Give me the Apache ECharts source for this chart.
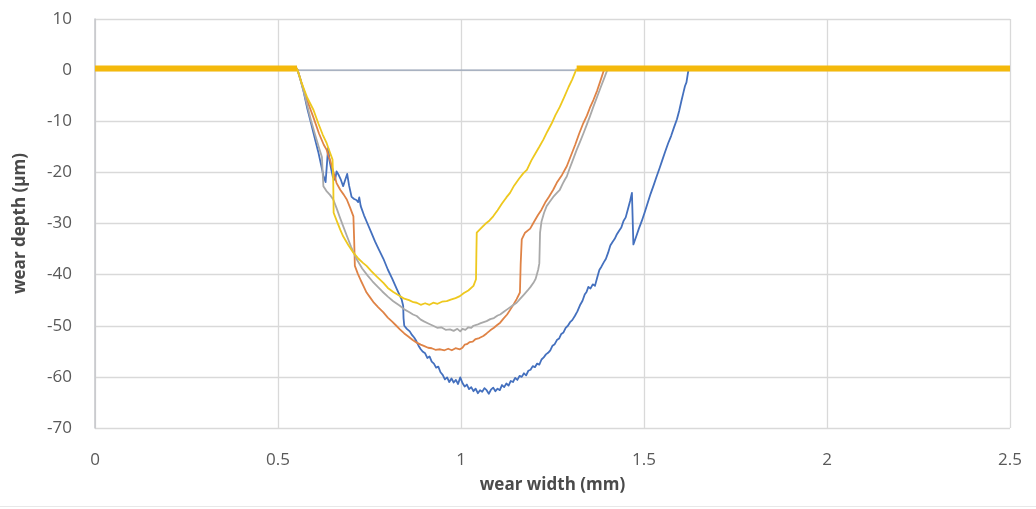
<!DOCTYPE html>
<html>
<head>
<meta charset="utf-8">
<title>wear profile</title>
<script src="https://cdn.jsdelivr.net/npm/echarts@6/dist/echarts.min.js"></script>
<style>
  html, body { margin: 0; padding: 0; background: #ffffff; }
  #chart { width: 1036px; height: 509px; }
</style>
</head>
<body>
<div id="chart"></div>
<script>
// Axis ranges and ticks
const xTicks = [0, 0.5, 1, 1.5, 2, 2.5];
const yTicks = [-70, -60, -50, -40, -30, -20, -10, 0, 10];

// Wear profiles: [width (mm), depth (µm)]
const profileBlue = [
  [0.000,0.2],[0.552,0.3],[0.560,-1.5],[0.570,-4.2],[0.580,-7.5],[0.590,-10.3],[0.600,-13.2],[0.610,-16.0],
  [0.618,-18.6],[0.624,-20.6],[0.630,-21.9],[0.633,-21.6],[0.637,-15.2],[0.641,-17.8],[0.646,-19.6],[0.650,-20.9],
  [0.656,-21.5],[0.660,-19.8],[0.665,-20.4],[0.671,-21.3],[0.678,-22.7],[0.684,-21.4],[0.689,-20.3],[0.694,-22.5],
  [0.701,-24.8],[0.708,-25.2],[0.714,-25.4],[0.719,-25.8],[0.722,-24.9],[0.726,-26.6],[0.735,-28.4],[0.745,-30.1],
  [0.755,-31.8],[0.765,-33.5],[0.775,-35.0],[0.788,-36.9],[0.800,-39.0],[0.812,-40.8],[0.825,-42.9],[0.838,-44.9],
  [0.842,-46.1],[0.843,-48.5],[0.845,-50.0],[0.852,-50.6],[0.860,-51.1],[0.866,-51.8],[0.872,-52.3],[0.878,-53.0],
  [0.884,-53.9],[0.890,-54.6],[0.896,-55.1],[0.902,-55.4],[0.908,-56.3],[0.914,-56.0],[0.920,-57.0],[0.926,-57.4],
  [0.932,-58.2],[0.938,-58.0],[0.944,-59.1],[0.950,-59.6],[0.956,-60.5],[0.962,-60.1],[0.968,-61.0],[0.974,-60.3],
  [0.980,-61.1],[0.986,-60.6],[0.992,-61.4],[0.998,-60.1],[1.004,-61.2],[1.010,-61.9],[1.016,-61.5],[1.022,-62.4],
  [1.028,-62.0],[1.034,-62.8],[1.040,-62.3],[1.046,-63.2],[1.052,-62.6],[1.058,-62.9],[1.064,-62.2],[1.070,-62.6],
  [1.076,-63.3],[1.082,-62.5],[1.088,-62.1],[1.094,-62.8],[1.100,-62.3],[1.106,-62.6],[1.112,-61.6],[1.118,-62.0],
  [1.124,-61.3],[1.130,-61.7],[1.136,-60.8],[1.142,-61.0],[1.148,-60.2],[1.154,-60.6],[1.160,-59.8],[1.166,-60.0],
  [1.172,-59.3],[1.178,-59.7],[1.184,-58.8],[1.190,-58.6],[1.196,-57.9],[1.202,-58.1],[1.208,-57.4],[1.214,-57.6],
  [1.220,-56.6],[1.226,-56.2],[1.232,-55.6],[1.238,-55.3],[1.244,-54.8],[1.250,-53.9],[1.256,-53.6],[1.262,-52.8],
  [1.268,-52.5],[1.274,-51.6],[1.280,-51.3],[1.286,-50.4],[1.292,-50.0],[1.298,-49.3],[1.304,-48.9],[1.311,-48.1],
  [1.318,-47.2],[1.325,-46.0],[1.332,-45.1],[1.338,-43.9],[1.343,-43.4],[1.348,-42.4],[1.354,-42.7],[1.360,-41.9],
  [1.366,-42.2],[1.372,-40.6],[1.378,-39.1],[1.384,-38.4],[1.390,-37.6],[1.396,-36.9],[1.402,-35.7],[1.408,-34.3],
  [1.414,-33.6],[1.420,-33.0],[1.426,-32.1],[1.432,-31.4],[1.438,-30.8],[1.444,-29.5],[1.450,-28.8],[1.456,-27.2],
  [1.462,-25.6],[1.467,-24.0],[1.471,-34.1],[1.478,-32.7],[1.486,-31.0],[1.494,-29.5],[1.502,-27.8],[1.510,-26.0],
  [1.518,-24.2],[1.526,-22.6],[1.534,-20.9],[1.542,-19.3],[1.550,-17.6],[1.558,-15.9],[1.566,-14.3],[1.574,-12.9],
  [1.582,-11.2],[1.590,-9.6],[1.596,-8.0],[1.602,-6.1],[1.607,-4.6],[1.612,-3.1],[1.616,-2.4],[1.620,-0.6],
  [1.622,0.2],[2.500,0.2]
];

const profileOrange = [
  [0.000,0.2],[0.552,0.3],[0.565,-2.6],[0.580,-6.0],[0.597,-9.3],[0.612,-12.4],[0.625,-14.6],[0.633,-15.6],
  [0.638,-16.8],[0.642,-17.5],[0.650,-19.6],[0.660,-22.1],[0.670,-23.4],[0.680,-24.4],[0.688,-25.3],[0.697,-26.9],
  [0.706,-28.6],[0.708,-33.0],[0.710,-38.3],[0.718,-39.8],[0.726,-41.1],[0.734,-42.3],[0.742,-43.5],[0.752,-44.5],
  [0.762,-45.5],[0.774,-46.4],[0.788,-47.4],[0.800,-48.4],[0.812,-49.2],[0.822,-49.9],[0.833,-50.7],[0.845,-51.5],
  [0.856,-52.1],[0.868,-52.8],[0.879,-53.3],[0.890,-53.7],[0.900,-54.0],[0.910,-54.3],[0.920,-54.4],[0.930,-54.7],
  [0.943,-54.6],[0.955,-54.8],[0.965,-54.5],[0.975,-54.8],[0.985,-54.4],[0.997,-54.6],[1.004,-54.3],[1.010,-53.7],
  [1.016,-53.6],[1.024,-53.2],[1.032,-53.1],[1.040,-52.6],[1.050,-52.4],[1.061,-52.0],[1.070,-51.5],[1.080,-50.9],
  [1.090,-50.4],[1.098,-49.9],[1.107,-49.4],[1.116,-48.6],[1.126,-47.8],[1.136,-46.7],[1.144,-45.8],[1.152,-44.8],
  [1.161,-43.5],[1.163,-38.0],[1.166,-33.1],[1.175,-31.8],[1.189,-31.0],[1.200,-29.6],[1.210,-28.4],[1.220,-27.3],
  [1.230,-25.9],[1.240,-24.8],[1.252,-23.4],[1.262,-22.0],[1.276,-20.5],[1.289,-18.8],[1.300,-16.8],[1.312,-14.6],
  [1.323,-12.4],[1.334,-10.4],[1.344,-8.9],[1.352,-7.4],[1.362,-5.8],[1.372,-4.0],[1.380,-2.3],[1.389,-0.3],
  [1.392,0.2],[2.500,0.2]
];

const profileGray = [
  [0.000,0.2],[0.552,0.3],[0.565,-2.8],[0.578,-6.4],[0.590,-9.8],[0.602,-12.8],[0.612,-15.2],[0.620,-17.0],
  [0.622,-20.0],[0.624,-22.7],[0.632,-23.6],[0.642,-24.4],[0.651,-25.3],[0.660,-27.0],[0.670,-29.0],[0.678,-30.5],
  [0.688,-32.4],[0.700,-34.6],[0.715,-37.0],[0.730,-38.8],[0.745,-40.2],[0.758,-41.3],[0.770,-42.2],[0.785,-43.3],
  [0.800,-44.3],[0.815,-45.2],[0.833,-46.1],[0.845,-46.8],[0.858,-47.3],[0.869,-47.8],[0.879,-48.1],[0.890,-48.8],
  [0.900,-49.2],[0.912,-49.6],[0.924,-50.0],[0.935,-50.4],[0.946,-50.3],[0.958,-50.8],[0.970,-50.7],[0.980,-51.0],
  [0.990,-50.6],[0.998,-51.1],[1.004,-50.6],[1.012,-50.8],[1.020,-50.3],[1.028,-50.4],[1.034,-50.0],[1.044,-49.8],
  [1.054,-49.5],[1.062,-49.3],[1.070,-49.1],[1.080,-48.7],[1.090,-48.5],[1.100,-48.0],[1.107,-47.8],[1.118,-47.2],
  [1.128,-46.7],[1.140,-46.1],[1.152,-45.5],[1.162,-44.7],[1.172,-43.9],[1.182,-43.1],[1.190,-42.4],[1.198,-41.6],
  [1.204,-40.8],[1.211,-39.0],[1.214,-37.8],[1.216,-31.8],[1.220,-29.6],[1.227,-27.9],[1.234,-26.6],[1.244,-25.6],
  [1.252,-24.8],[1.262,-24.0],[1.270,-23.4],[1.278,-22.2],[1.284,-21.4],[1.289,-20.8],[1.296,-19.4],[1.304,-17.9],
  [1.316,-15.6],[1.326,-13.9],[1.336,-12.1],[1.344,-10.6],[1.352,-9.1],[1.362,-7.1],[1.372,-5.2],[1.382,-3.3],
  [1.390,-1.8],[1.398,-0.3],[1.402,0.2],[2.500,0.2]
];

const profileYellow = [
  [0.552,0.3],[0.565,-2.6],[0.580,-5.4],[0.597,-7.8],[0.610,-10.4],[0.622,-12.6],[0.633,-14.3],[0.642,-16.1],
  [0.649,-17.5],[0.651,-22.0],[0.652,-27.9],[0.660,-29.4],[0.670,-31.2],[0.678,-32.5],[0.692,-34.2],[0.706,-35.7],
  [0.720,-36.9],[0.732,-37.7],[0.742,-38.3],[0.755,-39.3],[0.770,-40.4],[0.788,-41.6],[0.800,-42.6],[0.815,-43.4],
  [0.833,-44.2],[0.845,-44.7],[0.858,-45.0],[0.870,-45.4],[0.879,-45.5],[0.890,-45.9],[0.902,-45.6],[0.914,-45.9],
  [0.924,-45.5],[0.936,-45.7],[0.948,-45.3],[0.961,-45.2],[0.972,-44.9],[0.985,-44.6],[0.997,-44.2],[1.008,-43.6],
  [1.020,-43.1],[1.034,-42.2],[1.041,-40.9],[1.042,-36.0],[1.043,-31.8],[1.055,-30.9],[1.066,-30.1],[1.078,-29.4],
  [1.088,-28.6],[1.100,-27.4],[1.112,-26.1],[1.124,-24.9],[1.134,-24.0],[1.145,-22.6],[1.158,-21.3],[1.170,-20.2],
  [1.180,-19.5],[1.192,-17.7],[1.204,-16.2],[1.214,-15.0],[1.225,-13.6],[1.236,-12.0],[1.248,-10.4],[1.258,-8.8],
  [1.270,-7.2],[1.282,-5.3],[1.294,-3.3],[1.304,-1.8],[1.316,0.3]
];

// Unworn surface either side of the track (yellow run)
const surfaceYellowLeft = [[0.000,0.3],[0.552,0.3]];
const surfaceYellowRight = [[1.316,0.3],[2.500,0.3]];

const xMin = xTicks[0], xMax = xTicks[xTicks.length - 1];
const yMin = yTicks[0], yMax = yTicks[yTicks.length - 1];

const labelColor = '#595959';
const gridColor = '#D9D9D9';
const fontFamily = '"Open Sans", "Noto Sans", sans-serif';

const chart = echarts.init(document.getElementById('chart'), null, { renderer: 'canvas' });

function profileSeries(name, data, color, width, z) {
  return {
    name: name,
    type: 'line',
    data: data,
    showSymbol: false,
    symbol: 'none',
    smooth: false,
    silent: true,
    animation: false,
    z: z,
    lineStyle: { color: color, width: width, join: 'round' }
  };
}

chart.setOption({
  backgroundColor: '#ffffff',
  animation: false,
  grid: { left: 95, right: 26, top: 19, bottom: 81, containLabel: false },
  xAxis: {
    type: 'value',
    min: xMin,
    max: xMax,
    interval: 0.5,
    name: 'wear width (mm)',
    nameLocation: 'middle',
    nameGap: 57,
    nameTextStyle: { fontSize: 17, fontWeight: 'bold', color: '#4a4a4a', fontFamily: fontFamily, verticalAlign: 'middle' },
    axisLine: { show: false },
    axisTick: { show: false },
    axisLabel: { fontSize: 17, color: labelColor, margin: 24, fontFamily: fontFamily },
    splitLine: { show: true, lineStyle: { color: gridColor, width: 1.3 } }
  },
  yAxis: {
    type: 'value',
    min: yMin,
    max: yMax,
    interval: 10,
    name: 'wear depth (\u03bcm)',
    nameLocation: 'middle',
    nameGap: 75,
    nameTextStyle: { fontSize: 17, fontWeight: 'bold', color: '#4a4a4a', fontFamily: fontFamily, verticalAlign: 'middle' },
    axisLine: { show: true, onZero: false, lineStyle: { color: '#C4C6CA', width: 1.5 } },
    axisTick: { show: false },
    axisLabel: { fontSize: 17, color: labelColor, margin: 23, fontFamily: fontFamily },
    splitLine: { show: true, lineStyle: { color: gridColor, width: 1.3 } }
  },
  graphic: [
    { type: 'rect', left: 0, top: 506, shape: { width: 1036, height: 1 }, style: { fill: '#E8E8E8' }, silent: true }
  ],
  series: [
    {
      name: 'zero',
      type: 'line',
      data: [[xMin, 0], [xMax, 0]],
      showSymbol: false,
      symbol: 'none',
      silent: true,
      z: 1,
      lineStyle: { color: '#98A4B8', width: 1.2 }
    },
    profileSeries('1', profileBlue, '#4470BE', 1.8, 2),
    profileSeries('2', profileOrange, '#DF8346', 1.8, 3),
    profileSeries('3', profileGray, '#A9A9A9', 1.8, 4),
    profileSeries('4', profileYellow, '#EEC81E', 1.8, 5),
    profileSeries('4 surface', surfaceYellowLeft, '#F4B90C', 6, 6),
    profileSeries('4 surface', surfaceYellowRight, '#F4B90C', 6, 6)
  ]
});
</script>
</body>
</html>
